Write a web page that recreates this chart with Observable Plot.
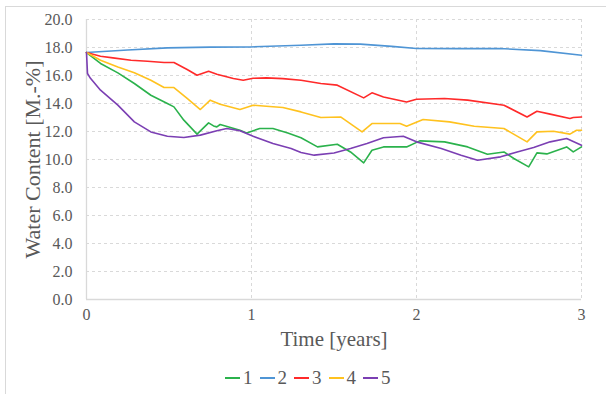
<!DOCTYPE html>
<html>
<head>
<meta charset="utf-8">
<script src="https://cdn.jsdelivr.net/npm/d3@7"></script>
<script src="https://cdn.jsdelivr.net/npm/@observablehq/plot@0.6"></script>
<style>
  html, body { margin: 0; padding: 0; background: #fff; }
  #wrap { position: relative; width: 606px; height: 394px; overflow: hidden; font-family: 'Liberation Serif', serif; color: #595959; }
  #frame { position: absolute; left: 5px; top: 6px; width: 640px; height: 420px; border: 1px solid #d9d9d9; box-sizing: border-box; }
  #chart { position: absolute; left: 0; top: 0; }
  #chart svg, #chart svg text { font-family: 'Liberation Serif', serif !important; }
  #legend { position: absolute; left: 225px; top: 367px; display: flex; font-size: 19px; line-height: 22px; font-family: 'Liberation Serif', serif; }
  .item { display: flex; align-items: center; margin-right: 7px; }
  .sw { display: inline-block; width: 15px; height: 2px; margin-right: 3px; }
</style>
</head>
<body>
<div id="wrap"><div id="frame"></div><div id="chart"></div><div id="legend"></div></div>
<script>
const seriesNames = ["1", "2", "3", "4", "5"];
const seriesColors = ["#2bb24c", "#4f95d5", "#ff2a2a", "#ffc21f", "#7b3fb3"];

const t1 = [0, 0.085, 0.19, 0.29, 0.39, 0.49, 0.53, 0.59, 0.67, 0.74, 0.77, 0.79, 0.81, 0.93, 0.97, 1.05, 1.13, 1.22, 1.30, 1.40, 1.52, 1.60, 1.68, 1.73, 1.80, 1.94, 2.02, 2.17, 2.31, 2.43, 2.53, 2.59, 2.68, 2.73, 2.79, 2.91, 2.95, 3.0];
const v1 = [17.64, 16.86, 16.19, 15.43, 14.59, 14.0, 13.76, 12.81, 11.81, 12.62, 12.4, 12.33, 12.5, 12.09, 11.9, 12.21, 12.21, 11.9, 11.55, 10.9, 11.09, 10.54, 9.76, 10.66, 10.9, 10.9, 11.33, 11.26, 10.9, 10.38, 10.54, 10.07, 9.47, 10.47, 10.4, 10.9, 10.54, 10.9];

const t2 = [0, 0.25, 0.49, 0.75, 0.99, 1.3, 1.5, 1.66, 1.85, 2.0, 2.25, 2.5, 2.75, 3.0];
const v2 = [17.64, 17.82, 17.97, 18.03, 18.04, 18.16, 18.26, 18.24, 18.08, 17.93, 17.92, 17.93, 17.78, 17.45];

const t3 = [0, 0.085, 0.16, 0.27, 0.37, 0.47, 0.53, 0.61, 0.67, 0.74, 0.79, 0.89, 0.95, 1.01, 1.09, 1.19, 1.30, 1.42, 1.52, 1.68, 1.73, 1.80, 1.94, 2.0, 2.17, 2.31, 2.53, 2.67, 2.73, 2.81, 2.93, 2.95, 3.0];
const v3 = [17.64, 17.37, 17.26, 17.09, 17.02, 16.93, 16.93, 16.43, 16.02, 16.3, 16.09, 15.78, 15.66, 15.8, 15.83, 15.78, 15.66, 15.43, 15.31, 14.4, 14.76, 14.47, 14.11, 14.3, 14.36, 14.24, 13.88, 13.04, 13.45, 13.24, 12.93, 13.0, 13.04];

const t4 = [0, 0.085, 0.19, 0.29, 0.39, 0.47, 0.53, 0.61, 0.69, 0.75, 0.81, 0.93, 1.01, 1.09, 1.19, 1.30, 1.42, 1.54, 1.67, 1.73, 1.90, 1.94, 2.04, 2.20, 2.35, 2.53, 2.67, 2.73, 2.83, 2.93, 2.97, 3.0];
const v4 = [17.64, 17.09, 16.6, 16.19, 15.66, 15.14, 15.14, 14.36, 13.57, 14.24, 13.95, 13.57, 13.88, 13.8, 13.71, 13.4, 13.0, 13.04, 11.97, 12.57, 12.57, 12.38, 12.86, 12.69, 12.38, 12.21, 11.26, 11.97, 12.02, 11.81, 12.09, 12.09];

const t5 = [0, 0.006, 0.024, 0.085, 0.19, 0.29, 0.39, 0.49, 0.59, 0.69, 0.79, 0.85, 0.93, 1.01, 1.13, 1.24, 1.30, 1.38, 1.50, 1.60, 1.70, 1.80, 1.92, 2.0, 2.15, 2.27, 2.37, 2.51, 2.61, 2.71, 2.81, 2.91, 3.0];
const v5 = [17.64, 16.14, 15.8, 14.95, 13.88, 12.69, 11.97, 11.66, 11.57, 11.74, 12.05, 12.21, 12.05, 11.66, 11.14, 10.79, 10.5, 10.31, 10.47, 10.79, 11.14, 11.55, 11.66, 11.26, 10.79, 10.31, 9.95, 10.19, 10.54, 10.85, 11.26, 11.5, 11.02];

const xTicks = [0, 1, 2, 3];
const yTicks = [0, 2, 4, 6, 8, 10, 12, 14, 16, 18, 20];

const allT = [t1, t2, t3, t4, t5];
const allV = [v1, v2, v3, v4, v5];
const data = [];
seriesNames.forEach((s, i) => allT[i].forEach((t, j) => data.push({series: s, t, v: allV[i][j]})));

const FF = "'Liberation Serif', serif";
const grid = "#d9d9d9";
const txt = "#595959";
const chart = Plot.plot({
  width: 606,
  height: 362,
  marginLeft: 86,
  marginRight: 25,
  marginTop: 19,
  marginBottom: 63,
  style: {fontFamily: FF, color: txt, background: "transparent", overflow: "visible"},
  x: {domain: [0, 3], axis: null},
  y: {domain: [0, 20], axis: null},
  color: {domain: seriesNames, range: seriesColors},
  marks: [
    Plot.ruleY(yTicks.filter(d => d > 0), {stroke: grid, strokeDasharray: "3,3", strokeWidth: 1}),
    Plot.ruleX(xTicks.filter(d => d > 0), {stroke: grid, strokeDasharray: "3,3", strokeWidth: 1}),
    Plot.ruleY([0], {stroke: grid, strokeWidth: 1.3}),
    Plot.ruleX([0], {stroke: grid, strokeWidth: 1.3}),
    Plot.line(data, {x: "t", y: "v", z: "series", stroke: "series", strokeWidth: 1.6, curve: "linear"}),
    Plot.text(xTicks, {x: d => d, frameAnchor: "bottom", dy: 20, text: d => String(d), fontSize: 16, fontFamily: FF, fill: txt}),
    Plot.text(yTicks, {y: d => d, frameAnchor: "left", dx: -14, textAnchor: "end", text: d => d.toFixed(1), fontSize: 16, fontFamily: FF, fill: txt}),
    Plot.text(["Time [years]"], {frameAnchor: "bottom", dy: 46, fontSize: 21, fontFamily: FF, fill: txt}),
    Plot.text(["Water Content [M.-%]"], {frameAnchor: "left", textAnchor: "middle", dx: -54, rotate: -90, fontSize: 22, fontFamily: FF, fill: txt})
  ]
});
document.getElementById("chart").appendChild(chart);

const legend = document.getElementById("legend");
seriesNames.forEach((s, i) => {
  const it = document.createElement("div");
  it.className = "item";
  const sw = document.createElement("span");
  sw.className = "sw";
  sw.style.background = seriesColors[i];
  const lb = document.createElement("span");
  lb.textContent = s;
  it.appendChild(sw); it.appendChild(lb);
  legend.appendChild(it);
});
</script>
</body>
</html>
